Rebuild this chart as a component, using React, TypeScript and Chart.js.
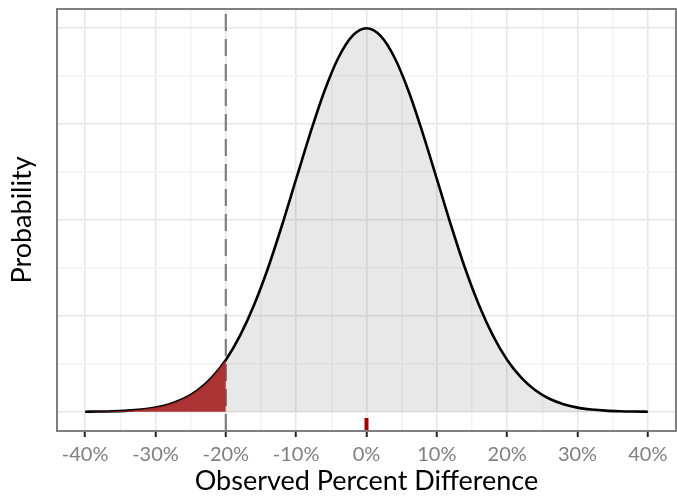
import React, { useEffect, useRef } from "react";
import { Chart, registerables } from "chart.js";

Chart.register(...registerables);

// Observed percent difference (x) and relative probability (y)
const curveX = [-40, -38, -36, -34, -32, -30, -28, -26, -24, -22, -20, -18, -16, -14, -12, -10, -8, -6, -4, -2, 0,
  2, 4, 6, 8, 10, 12, 14, 16, 18, 20, 22, 24, 26, 28, 30, 32, 34, 36, 38, 40];
const curveY = [0.0003, 0.0007, 0.0015, 0.003, 0.006, 0.011, 0.02, 0.034, 0.056, 0.089, 0.135, 0.198, 0.278, 0.375, 0.487, 0.607, 0.726, 0.835, 0.923, 0.98, 1.0,
  0.98, 0.923, 0.835, 0.726, 0.607, 0.487, 0.375, 0.278, 0.198, 0.135, 0.089, 0.056, 0.034, 0.02, 0.011, 0.006, 0.003, 0.0015, 0.0007, 0.0003];

const threshold = -20; // dashed cut-off line
const observed = 0; // observed value (rug mark)

const xTicks = [-40, -35, -30, -25, -20, -15, -10, -5, 0, 5, 10, 15, 20, 25, 30, 35, 40];
const yTicks = [0, 0.125, 0.25, 0.375, 0.5, 0.625, 0.75, 0.875, 1];
const xMin = -44;
const xMax = 44;
const yMin = -0.05;
const yMax = 1.05;

const pts = curveX.map((x, i) => ({ x, y: curveY[i] }));
const leftPts = pts.filter((p) => p.x <= threshold);
const rightPts = pts.filter((p) => p.x >= threshold);

const FONT = "Lato, 'Open Sans', sans-serif";

const frame = {
  id: "frame",
  afterDraw(chart: any) {
    const { ctx, chartArea: a } = chart;
    ctx.save();
    ctx.strokeStyle = "#7f7f7f";
    ctx.lineWidth = 2;
    ctx.strokeRect(a.left, a.top, a.right - a.left, a.bottom - a.top);
    ctx.restore();
  },
};

export default function App() {
  const ref = useRef<HTMLCanvasElement | null>(null);
  useEffect(() => {
    document.body.style.margin = "0";
    const chart = new Chart(ref.current!, {
      type: "line",
      data: {
        datasets: [
          {
            data: leftPts,
            borderWidth: 0,
            pointRadius: 0,
            fill: "origin",
            backgroundColor: "rgba(168,40,40,0.95)",
            cubicInterpolationMode: "monotone",
          } as any,
          {
            data: rightPts,
            borderWidth: 0,
            pointRadius: 0,
            fill: "origin",
            backgroundColor: "rgba(0,0,0,0.09)",
            cubicInterpolationMode: "monotone",
          } as any,
          {
            data: [
              { x: threshold, y: yMin },
              { x: threshold, y: yMax },
            ],
            borderColor: "#7f7f7f",
            borderWidth: 2.2,
            borderDash: [17, 8],
            pointRadius: 0,
            fill: false,
          },
          {
            data: pts,
            borderColor: "#000000",
            borderWidth: 2.6,
            pointRadius: 0,
            fill: false,
            cubicInterpolationMode: "monotone",
          } as any,
          {
            data: [
              { x: observed, y: yMin },
              { x: observed, y: -0.016 },
            ],
            borderColor: "#a00000",
            borderWidth: 4,
            borderCapStyle: "butt",
            pointRadius: 0,
            fill: false,
          },
        ],
      },
      options: {
        animation: false,
        responsive: false,
        layout: { padding: { left: 0, top: 9, right: 1, bottom: 0 } },
        plugins: { legend: { display: false }, tooltip: { enabled: false } },
        scales: {
          x: {
            type: "linear",
            min: xMin,
            max: xMax,
            afterBuildTicks: (s: any) => {
              s.ticks = xTicks.map((v) => ({ value: v }));
            },
            afterFit: (s: any) => {
              s.height = 66;
            },
            ticks: {
              autoSkip: false,
              maxRotation: 0,
              color: "#7f7f7f",
              font: { family: FONT, size: 20 },
              padding: 6,
              callback: (v: any) => (Number(v) % 10 === 0 ? `${v}%` : ""),
            },
            grid: {
              color: (c: any) => (c.tick && c.tick.value % 10 === 0 ? "#e6e6e6" : "#f3f3f3"),
              lineWidth: 1.5,
              tickColor: (c: any) => (c.tick && c.tick.value % 10 === 0 ? "#222222" : "rgba(0,0,0,0)"),
              tickLength: 6,
              tickWidth: 2,
            },
            border: { display: false },
            title: {
              display: true,
              text: "Observed Percent Difference",
              color: "#000000",
              font: { family: FONT, size: 27 },
              padding: { top: 0, bottom: 0 },
            },
          },
          y: {
            type: "linear",
            min: yMin,
            max: yMax,
            afterBuildTicks: (s: any) => {
              s.ticks = yTicks.map((v) => ({ value: v }));
            },
            afterFit: (s: any) => {
              s.width = 57;
            },
            ticks: { display: false },
            grid: {
              color: (c: any) => (c.tick && (c.tick.value * 4) % 1 === 0 ? "#e6e6e6" : "#f3f3f3"),
              lineWidth: 1.5,
              drawTicks: false,
            },
            border: { display: false },
            title: {
              display: true,
              text: "Probability",
              color: "#000000",
              font: { family: FONT, size: 27 },
              padding: { top: 6, bottom: 0 },
            },
          },
        },
      },
      plugins: [frame],
    });
    return () => chart.destroy();
  }, []);
  return <canvas ref={ref} width={677} height={497} style={{ display: "block" }} />;
}
